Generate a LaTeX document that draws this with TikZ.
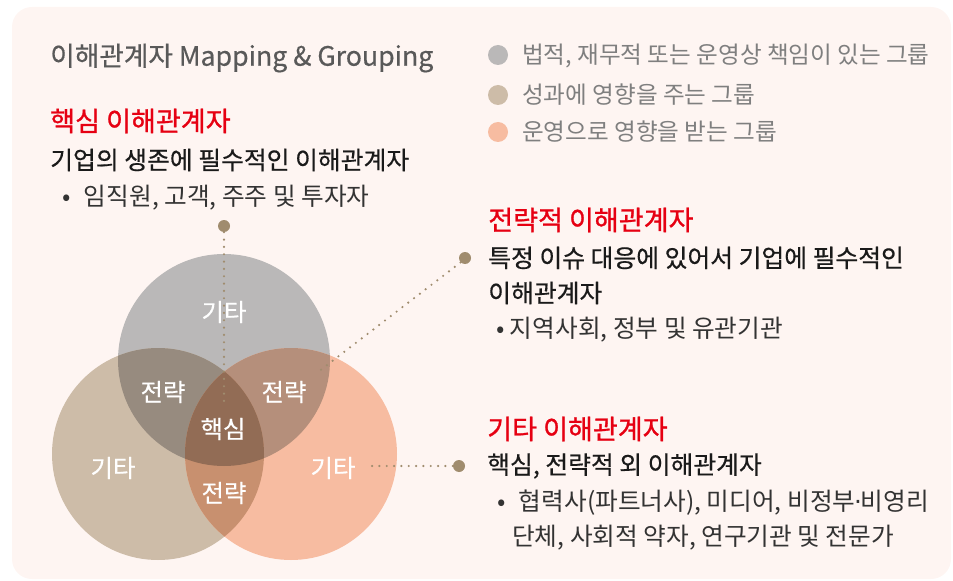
\documentclass[tikz,border=0pt]{standalone}
\usepackage{fontspec}
\setmainfont{Noto Sans CJK KR}
\newfontfamily\kr{Noto Sans CJK KR}
\newfontfamily\krm[FakeBold=0.5]{Noto Sans CJK KR}
\newfontfamily\krh[FakeBold=1.0]{Noto Sans CJK KR}
\newfontfamily\dvs{DejaVu Sans}
\definecolor{bgc}{HTML}{FEF5F2}
\definecolor{cgray}{HTML}{BAB8B8}
\definecolor{ctan}{HTML}{CDBCA8}
\definecolor{csal}{HTML}{F7BCA1}
\definecolor{cgt}{HTML}{978B7F}
\definecolor{cgs}{HTML}{B58F7B}
\definecolor{cts}{HTML}{C8906F}
\definecolor{call}{HTML}{926C55}
\definecolor{dotc}{HTML}{A08C6E}
\definecolor{redc}{HTML}{E60012}
\definecolor{titc}{HTML}{595959}
\definecolor{legc}{HTML}{7F7F7F}
\definecolor{txtc}{HTML}{1A1A1A}
\definecolor{subc}{HTML}{333333}
\tikzset{
  head/.style={anchor=west, inner sep=0pt, text=redc, font=\krh\fontsize{20.3}{24}\selectfont},
  sub/.style={anchor=west, inner sep=0pt, text=txtc, font=\krm\fontsize{18.6}{22}\selectfont},
  item/.style={anchor=west, inner sep=0pt, text=subc, font=\kr\fontsize{18.5}{22}\selectfont},
  leg/.style={anchor=west, inner sep=0pt, text=legc, font=\kr\fontsize{17.7}{22}\selectfont},
  vlab/.style={inner sep=0pt, text=white, font=\krm\fontsize{18.3}{22}\selectfont},
  pin/.style={circle, fill=dotc, minimum size=9pt, inner sep=0pt},
  dotline/.style={dotc, line width=1.8pt, dash pattern=on 0pt off 5.5pt, line cap=round},
}
\begin{document}
\begin{tikzpicture}[x=0.75pt,y=-0.75pt]
\useasboundingbox (0,0) rectangle (953,581);
\fill[bgc, rounded corners=15pt] (12,7) rectangle (951,579);
% circles
\fill[cgray] (224,360) circle (106);
\fill[ctan] (158,454) circle (106);
\fill[csal] (291,454) circle (106);
\begin{scope}
  \clip (224,360) circle (106);
  \fill[cgt] (158,454) circle (106);
\end{scope}
\begin{scope}
  \clip (224,360) circle (106);
  \fill[cgs] (291,454) circle (106);
\end{scope}
\begin{scope}
  \clip (158,454) circle (106);
  \fill[cts] (291,454) circle (106);
\end{scope}
\begin{scope}
  \clip (224,360) circle (106);
  \clip (158,454) circle (106);
  \fill[call] (291,454) circle (106);
\end{scope}
% title
\node[anchor=west, inner sep=0pt, text=titc, font=\krm\fontsize{20}{24}\selectfont] (title) at (50,58) {이해관계자 Mapping \& Grouping};
% legend
\fill[cgray] (498,55) circle (10) node[inner sep=0pt] (l1) {};
\fill[ctan] (498,95) circle (10) node[inner sep=0pt] (l2) {};
\fill[csal] (498,132) circle (10) node[inner sep=0pt] (l3) {};
\node[leg] (t1) at (522,56) {법적, 재무적 또는 운영상 책임이 있는 그룹};
\node[leg] (t2) at (522,95) {성과에 영향을 주는 그룹};
\node[leg] (t3) at (522,132) {운영으로 영향을 받는 그룹};
% core
\node[head] (h1) at (50,121) {핵심 이해관계자};
\node[sub] (s1) at (50,160) {기업의 생존에 필수적인 이해관계자};
\node[item] (i1) at (62,198) {•\hspace{10pt}임직원, 고객, 주주 및 투자자};
% strategic
\node[head] (h2) at (488,220) {전략적 이해관계자};
\node[sub] (s2) at (488,258) {특정 이슈 대응에 있어서 기업에 필수적인};
\node[sub] (s2b) at (488,293) {이해관계자};
\node[item] (i2) at (496,330) {•\hspace{4pt}지역사회, 정부 및 유관기관};
% other
\node[head] (h3) at (487,429) {기타 이해관계자};
\node[sub] (s3) at (487,466) {핵심, 전략적 외 이해관계자};
\node[item] (i3) at (497,503) {•\hspace{10pt}협력사(파트너사), 미디어, 비정부{\dvs\kern-1pt·\kern-1pt}비영리};
\node[item] (i3b) at (512,538) {단체, 사회적 약자, 연구기관 및 전문가};
% circle labels
\node[vlab] (g1) at (224,312) {기타};
\node[vlab] (st1) at (163,392) {전략};
\node[vlab] (st2) at (284,392) {전략};
\node[vlab] (core) at (223,429) {핵심};
\node[vlab] (g2) at (113,468) {기타};
\node[vlab] (g3) at (333,468) {기타};
\node[vlab] (st3) at (224,493) {전략};
% pins and dotted lines
\node[pin] (p1) at (224,226) {};
\coordinate (e1) at (224,405);
\draw[dotline] (p1.south) -- (e1);
\node[pin] (p2) at (465,258) {};
\coordinate (e2) at (318,372);
\draw[dotline] (p2.south west) -- (e2);
\node[pin] (p3) at (459,466) {};
\coordinate (e3) at (368,466);
\draw[dotline] (p3.west) -- (e3);
\end{tikzpicture}
\end{document}
